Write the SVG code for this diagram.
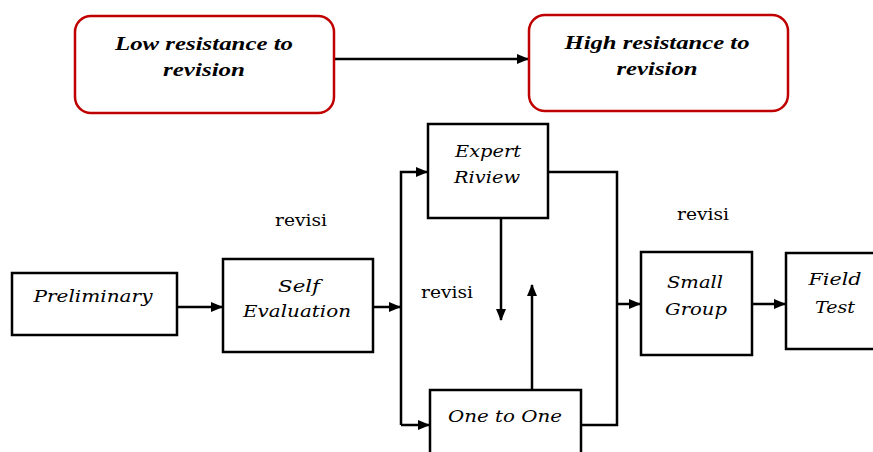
<svg xmlns="http://www.w3.org/2000/svg" width="873" height="452" viewBox="0 0 873 452">
<style>
.top{fill:#fff;stroke:#c00000;stroke-width:2.5}
.box{fill:#fff;stroke:#000;stroke-width:2.5}
.tt{font-family:'Liberation Serif','Times New Roman','DejaVu Serif',serif;font-style:italic;font-weight:bold;font-size:19px;fill:#000;text-anchor:middle}
.lb{font-family:'DejaVu Serif','Liberation Serif',serif;font-style:italic;font-size:17px;fill:#000;text-anchor:middle}
.rv{font-family:'DejaVu Serif',serif;font-size:17px;fill:#000;text-anchor:middle}
.ln{fill:none;stroke:#000;stroke-width:2.5}
</style>
<defs>
<marker id="ah" markerUnits="userSpaceOnUse" markerWidth="12" markerHeight="10" refX="11" refY="5" orient="auto">
<path d="M0,0 L12,5 L0,10 Z" fill="#000"/>
</marker>
</defs>
<g id="connectors">
<path class="ln" d="M334,59 H528" marker-end="url(#ah)"/>
<path class="ln" d="M177,307 H222" marker-end="url(#ah)"/>
<path class="ln" d="M373,307 H400" marker-end="url(#ah)"/>
<path class="ln" d="M401,425 V172 H427" marker-end="url(#ah)"/>
<path class="ln" d="M401,425 H429" marker-end="url(#ah)"/>
<path class="ln" d="M501,218 V320" marker-end="url(#ah)"/>
<path class="ln" d="M532,390 V285" marker-end="url(#ah)"/>
<path class="ln" d="M548,172 H617 V425 H581"/>
<path class="ln" d="M617,304 H640" marker-end="url(#ah)"/>
<path class="ln" d="M752,304 H785" marker-end="url(#ah)"/>
</g>
<g id="low">
<rect class="top" x="75" y="16" width="259" height="97" rx="16"/>
<text class="tt" x="204" y="50" textLength="178" lengthAdjust="spacingAndGlyphs">Low resistance to</text>
<text class="tt" x="204" y="76" textLength="82" lengthAdjust="spacingAndGlyphs">revision</text>
</g>
<g id="high">
<rect class="top" x="529" y="15" width="259" height="96" rx="16"/>
<text class="tt" x="657" y="49" textLength="185" lengthAdjust="spacingAndGlyphs">High resistance to</text>
<text class="tt" x="657" y="75" textLength="81" lengthAdjust="spacingAndGlyphs">revision</text>
</g>
<g id="preliminary">
<rect class="box" x="12" y="273" width="165" height="62"/>
<text class="lb" x="93" y="302" textLength="119" lengthAdjust="spacingAndGlyphs">Preliminary</text>
</g>
<g id="self">
<rect class="box" x="223" y="259" width="150" height="93"/>
<text class="lb" x="299" y="292" textLength="42" lengthAdjust="spacingAndGlyphs">Self</text>
<text class="lb" x="297" y="317" textLength="108" lengthAdjust="spacingAndGlyphs">Evaluation</text>
</g>
<g id="expert">
<rect class="box" x="428" y="124" width="120" height="94"/>
<text class="lb" x="488" y="157" textLength="66" lengthAdjust="spacingAndGlyphs">Expert</text>
<text class="lb" x="487" y="183" textLength="66" lengthAdjust="spacingAndGlyphs">Riview</text>
</g>
<g id="onetoone">
<rect class="box" x="430" y="390" width="151" height="70"/>
<text class="lb" x="505" y="422" textLength="114" lengthAdjust="spacingAndGlyphs">One to One</text>
</g>
<g id="small">
<rect class="box" x="641" y="252" width="111" height="103"/>
<text class="lb" x="695" y="288" textLength="56" lengthAdjust="spacingAndGlyphs">Small</text>
<text class="lb" x="696" y="315" textLength="62" lengthAdjust="spacingAndGlyphs">Group</text>
</g>
<g id="field">
<rect class="box" x="786" y="253" width="95" height="96"/>
<text class="lb" x="835" y="285" textLength="53" lengthAdjust="spacingAndGlyphs">Field</text>
<text class="lb" x="835" y="313" textLength="40" lengthAdjust="spacingAndGlyphs">Test</text>
</g>
<g id="labels">
<text class="rv" x="301" y="226" textLength="52" lengthAdjust="spacingAndGlyphs">revisi</text>
<text class="rv" x="447" y="298" textLength="52" lengthAdjust="spacingAndGlyphs">revisi</text>
<text class="rv" x="703" y="220" textLength="52" lengthAdjust="spacingAndGlyphs">revisi</text>
</g>
</svg>
